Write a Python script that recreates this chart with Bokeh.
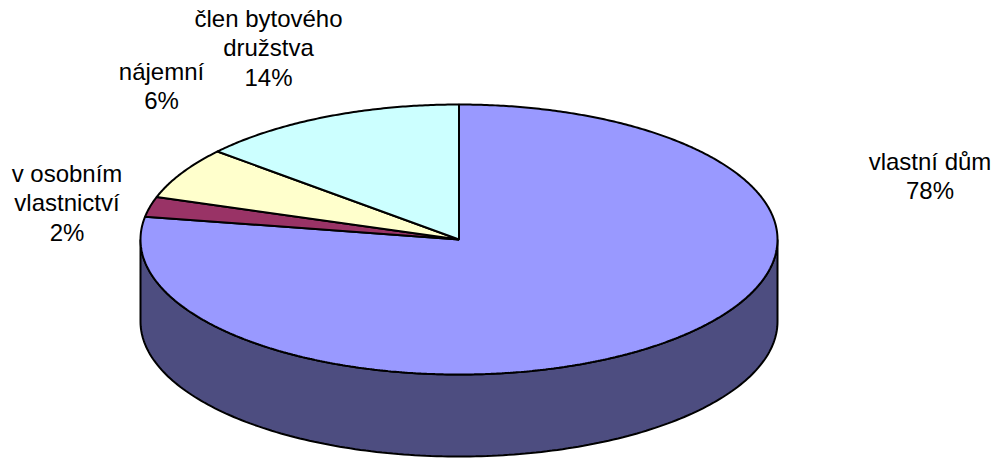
import numpy as np
from bokeh.plotting import figure
from bokeh.embed import file_html
from bokeh.resources import INLINE
from bokeh.core.properties import value
from bokeh.models import Range1d

categories = ["vlastní dům", "v osobním vlastnictví", "nájemní", "člen bytového družstva"]
shares = [77.7, 2.4, 6.2, 13.7]
top_colors = ["#9999FF", "#993366", "#FFFFCC", "#CCFFFF"]
side_color = "#4D4D80"
label_lines = [["vlastní dům", "78%"], ["v osobním", "vlastnictví", "2%"], ["nájemní", "6%"], ["člen bytového", "družstva", "14%"]]
label_centers = [(929.5, 161), (66.5, 173), (161, 71), (268, 18)]

CX, CY, RX, RY, DEPTH = 458.5, 239.0, 318.5, 135.0, 82.0
LINE_H = 29.3

p = figure(width=1000, height=458, output_backend="svg", toolbar_location=None,
           x_range=Range1d(0, 1000), y_range=Range1d(458, 0),
           min_border=0, outline_line_color=None, background_fill_color="white")
p.axis.visible = False
p.grid.visible = False

def pt(t):
    return CX + RX * np.sin(t), CY - RY * np.cos(t)

# side wall
t = np.radians(np.linspace(90, 270, 181))
xs, ys = pt(t)
p.patch(np.r_[xs, xs[::-1]], np.r_[ys, ys[::-1] + DEPTH], fill_color=side_color, line_color="black", line_width=2)

# top faces
edges = np.cumsum([0] + shares) / sum(shares) * 2 * np.pi
for a, b, c in zip(edges[:-1], edges[1:], top_colors):
    t = np.linspace(a, b, max(int(np.degrees(b - a)) * 2, 4))
    xs, ys = pt(t)
    p.patch(np.r_[CX, xs], np.r_[CY, ys], fill_color=c, line_color="black", line_width=2)

# labels
for lines, (cx, cy) in zip(label_lines, label_centers):
    for i, line in enumerate(lines):
        p.text([cx], [cy + i * LINE_H], text=[line], text_align="center", text_baseline="middle",
               text_font=value("Liberation Sans"), text_font_size="24px", text_color="black")

open("out.html", "w").write(file_html(p, INLINE))
